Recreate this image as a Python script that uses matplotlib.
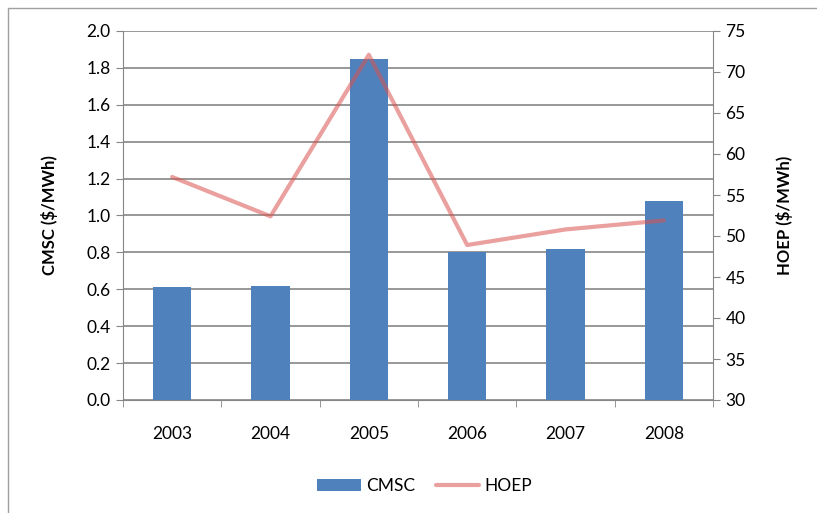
import matplotlib.pyplot as plt
from matplotlib.patches import Rectangle
import numpy as np

plt.rcParams['font.family'] = ['Lato', 'DejaVu Sans']

years = ['2003', '2004', '2005', '2006', '2007', '2008']
cmsc = [0.61, 0.62, 1.85, 0.80, 0.82, 1.08]
hoep = [57.2, 52.4, 72.1, 48.9, 50.8, 51.9]

BAR_COLOR = '#4F81BD'
LINE_COLOR = '#D9534F'
GRID = '#868686'

fig = plt.figure(figsize=(8.17, 5.13), dpi=100)
# outer chart border (cropped at right/bottom in the original)
fig.patches.append(Rectangle((8 / 817, -0.1), 1.0, 1 - 8 / 513 + 0.1,
                             transform=fig.transFigure, fill=False,
                             edgecolor='#A0A0A0', linewidth=1.0))

ax = fig.add_axes([123 / 817, 113 / 513, 590 / 817, 369 / 513])
x = np.arange(len(years))
bars = ax.bar(x, cmsc, width=0.39, color=BAR_COLOR, label='CMSC', zorder=2)
ax.set_xlim(-0.5, len(years) - 0.5)
ax.set_ylim(0, 2.0)
ax.set_yticks(np.arange(0, 2.01, 0.2))
ax.set_yticklabels(['{:.1f}'.format(v) for v in np.arange(0, 2.01, 0.2)])
ax.yaxis.grid(True, color=GRID, linewidth=1.2, zorder=0)
ax.set_axisbelow(True)

ax.set_xticks(x)
ax.set_xticklabels(years)
ax.set_xticks(np.arange(-0.5, len(years)), minor=True)
ax.tick_params(axis='x', which='major', length=0, pad=19, labelsize=12.5)
ax.tick_params(axis='x', which='minor', length=5, color=GRID, direction='out')
ax.tick_params(axis='y', length=5, color=GRID, labelsize=12.5, pad=4)
for s in ['top', 'right']:
    ax.spines[s].set_visible(False)
ax.spines['left'].set_color(GRID)
ax.spines['bottom'].set_color(GRID)
ax.set_ylabel('CMSC ($/MWh)', fontsize=12, fontweight='bold', labelpad=20)

ax2 = ax.twinx()
line, = ax2.plot(x, hoep, color=LINE_COLOR, alpha=0.55, linewidth=3,
                 label='HOEP', solid_capstyle='round', zorder=3)
ax2.set_ylim(30, 75)
ax2.set_yticks(np.arange(30, 76, 5))
ax2.tick_params(axis='y', length=5, color=GRID, labelsize=12.5, pad=4)
for s in ['top', 'left', 'bottom']:
    ax2.spines[s].set_visible(False)
ax2.spines['right'].set_color(GRID)
ax2.set_ylabel('HOEP ($/MWh)', fontsize=12, fontweight='bold', labelpad=22)

fig.legend([bars, line], ['CMSC', 'HOEP'], loc='center',
           bbox_to_anchor=(0.52, 27 / 513), ncol=2, frameon=False,
           fontsize=12.5, handlelength=2.5, columnspacing=1.2, handletextpad=0.3)

plt.savefig('out.png', dpi=100)
